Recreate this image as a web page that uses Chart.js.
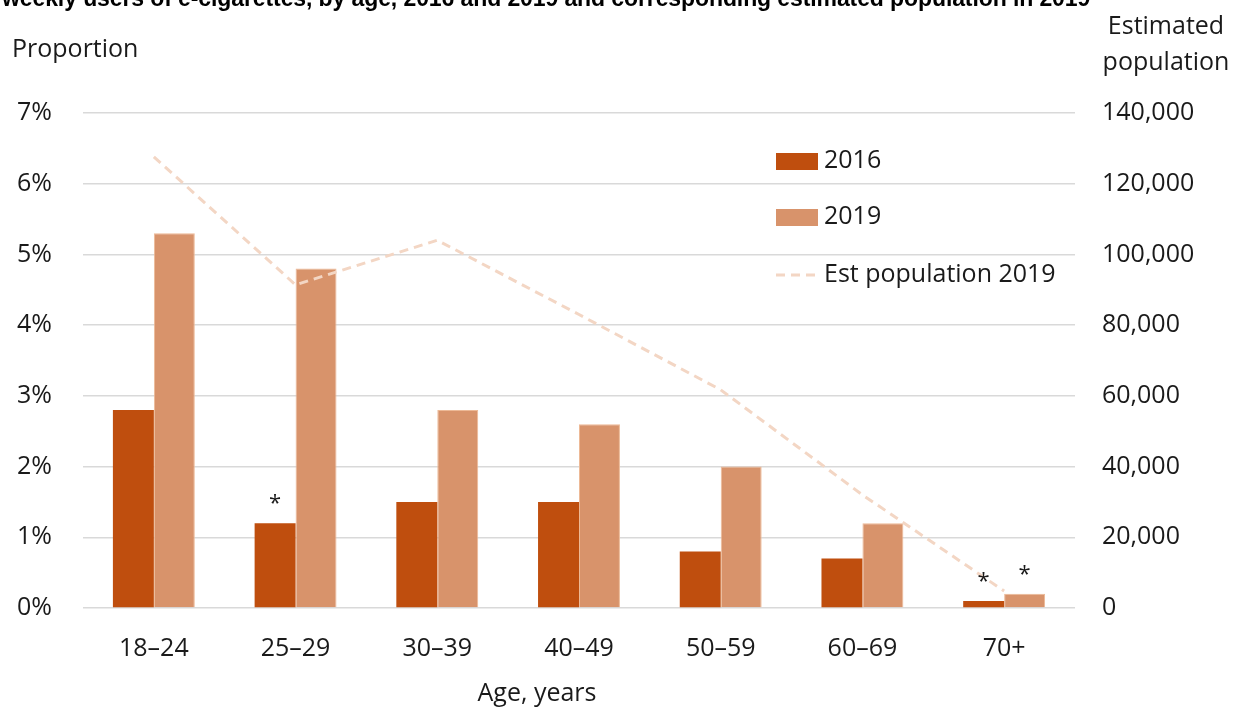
<!DOCTYPE html>
<html>
<head>
<meta charset="utf-8">
<script src="https://cdn.jsdelivr.net/npm/chart.js@4"></script>
<style>
html,body{margin:0;padding:0;background:#fff;overflow:hidden;}
#wrap{position:relative;width:1235px;height:708px;}
#title{position:absolute;left:2px;top:-13px;font-family:"Liberation Sans",Arial,sans-serif;font-size:23px;font-weight:bold;line-height:23px;color:#000;white-space:nowrap;letter-spacing:-0.1px;}
canvas{position:absolute;left:0;top:0;}
</style>
</head>
<body>
<div id="wrap">
<canvas id="c" width="1235" height="708"></canvas>
<div id="title">weekly users of e-cigarettes, by age, 2016 and 2019 and corresponding estimated population in 2019</div>
</div>
<script>
const categories = ["18\u201324","25\u201329","30\u201339","40\u201349","50\u201359","60\u201369","70+"];
const share2016 = [2.8, 1.2, 1.5, 1.5, 0.8, 0.7, 0.1];
const share2019 = [5.3, 4.8, 2.8, 2.6, 2.0, 1.2, 0.2];
const population2019 = [127600, 91400, 104000, 83000, 61700, 32000, 4800];
const flag2016 = [false, true, false, false, false, false, true];
const flag2019 = [false, false, false, false, false, false, true];
const leftTicks = [0,1,2,3,4,5,6,7];
const rightTicks = [0,20000,40000,60000,80000,100000,120000,140000];

const FONT = '"Open Sans", "Noto Sans", sans-serif';
const FS = 25;
const TXT = '#1a1a1a';
const C2016 = '#BF4E0E';
const C2019 = '#D8936B';
const CLINE = '#F3D6C4';

const extras = {
  id: 'extras',
  afterDatasetsDraw(chart) {
    const ctx = chart.ctx;
    ctx.save();
    ctx.fillStyle = TXT;
    ctx.font = '22px ' + FONT;
    ctx.textAlign = 'center';
    ctx.textBaseline = 'alphabetic';
    [[0, flag2016],[1, flag2019]].forEach(([di, flags]) => {
      const meta = chart.getDatasetMeta(di);
      meta.data.forEach((bar, i) => {
        if (flags[i]) ctx.fillText('*', bar.x, bar.y - 13);
      });
    });
    ctx.restore();
  },
  afterDraw(chart) {
    const ctx = chart.ctx;
    ctx.save();
    ctx.fillStyle = TXT;
    ctx.font = FS + 'px ' + FONT;
    ctx.textBaseline = 'middle';
    ctx.textAlign = 'left';
    ctx.fillText('Proportion', 12, 50);
    ctx.textAlign = 'center';
    ctx.fillText('Estimated', 1166, 27);
    ctx.fillText('population', 1166, 63);
    ctx.fillText('Age, years', 537, 694);
    // legend
    const lx = 776, ly = [161, 217, 275];
    ctx.textAlign = 'left';
    ctx.fillStyle = C2016; ctx.fillRect(lx, ly[0]-8, 42, 17);
    ctx.fillStyle = C2019; ctx.fillRect(lx, ly[1]-8, 42, 17);
    ctx.strokeStyle = CLINE; ctx.lineWidth = 3; ctx.setLineDash([9,6]);
    ctx.beginPath(); ctx.moveTo(lx, ly[2]); ctx.lineTo(lx+42, ly[2]); ctx.stroke();
    ctx.setLineDash([]);
    ctx.fillStyle = TXT;
    chart.data.datasets.forEach((ds, i) => {
      ctx.fillText(ds.label, lx + 48, ly[i]);
    });
    ctx.restore();
  }
};

new Chart(document.getElementById('c'), {
  data: {
    labels: categories,
    datasets: [
      { type: 'bar', label: '2016', data: share2016, backgroundColor: C2016, yAxisID: 'y', order: 2,
        categoryPercentage: 0.578, barPercentage: 1.0 },
      { type: 'bar', label: '2019', data: share2019, backgroundColor: C2019, borderColor: '#EDB996', borderWidth: 1, yAxisID: 'y', order: 2,
        categoryPercentage: 0.578, barPercentage: 1.0 },
      { type: 'line', label: 'Est population 2019', data: population2019, borderColor: CLINE, borderWidth: 3,
        borderDash: [9,6], pointRadius: 0, fill: false, yAxisID: 'y2', order: 1, tension: 0 }
    ]
  },
  options: {
    responsive: false,
    animation: false,
    layout: { padding: { top: 113, bottom: 0, left: 0, right: 0 } },
    plugins: { legend: { display: false }, tooltip: { enabled: false }, title: { display: false } },
    scales: {
      x: {
        grid: { display: false, drawTicks: false },
        border: { display: false },
        ticks: { color: TXT, font: { family: FONT, size: FS }, padding: 26 },
        afterFit(s) { s.height = 100; }
      },
      y: {
        position: 'left', min: 0, max: 7,
        afterBuildTicks(s) { s.ticks = leftTicks.map(v => ({ value: v })); },
        grid: { color: '#D9D9D9', lineWidth: 1.5, drawTicks: false },
        border: { display: false },
        ticks: { color: TXT, font: { family: FONT, size: FS }, padding: 31, callback: v => v + '%' },
        afterFit(s) { s.width = 83; }
      },
      y2: {
        position: 'right', min: 0, max: 140000,
        afterBuildTicks(s) { s.ticks = rightTicks.map(v => ({ value: v })); },
        grid: { display: false, drawTicks: false },
        border: { display: false },
        ticks: { color: TXT, font: { family: FONT, size: FS }, padding: 27, callback: v => v.toLocaleString('en-US') },
        afterFit(s) { s.width = 160; }
      }
    }
  },
  plugins: [extras]
});
</script>
</body>
</html>
